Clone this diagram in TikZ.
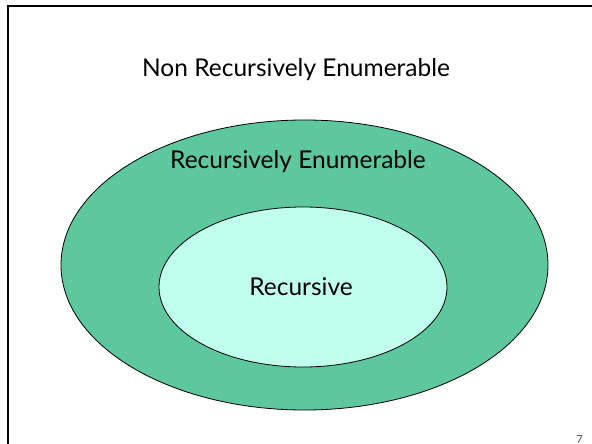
\documentclass[tikz,border=0pt]{standalone}
\usepackage{fontspec}
\setmainfont{Lato}
\definecolor{reouter}{RGB}{93,199,158}
\definecolor{recinner}{RGB}{192,255,238}
\begin{document}
\begin{tikzpicture}[x=1pt,y=-1pt,
  setring/.style={draw=black,line width=0.8pt},
  label/.style={inner sep=0pt,anchor=base,font=\fontsize{24.5}{28}\selectfont}]
\useasboundingbox (0,0) rectangle (592,444);
% slide frame: top and left rules only
\draw[line width=2.8pt] (8,444) -- (8,6) -- (592,6);
% nested sets
\draw[setring,fill=reouter] (304.5,265) ellipse [x radius=243.5,y radius=145];
\draw[setring,fill=recinner] (303,287) ellipse [x radius=144,y radius=80];
\node[label] (nre) at (296,77) {Non Recursively Enumerable};
\node[label] (re) at (298,168) {Recursively Enumerable};
\node[label] (rec) at (301,295) {Recursive};
% page number
\node[inner sep=0pt,anchor=base,font=\fontsize{11}{12}\selectfont,text=black!70] (pg) at (579.5,443) {7};
\end{tikzpicture}
\end{document}
